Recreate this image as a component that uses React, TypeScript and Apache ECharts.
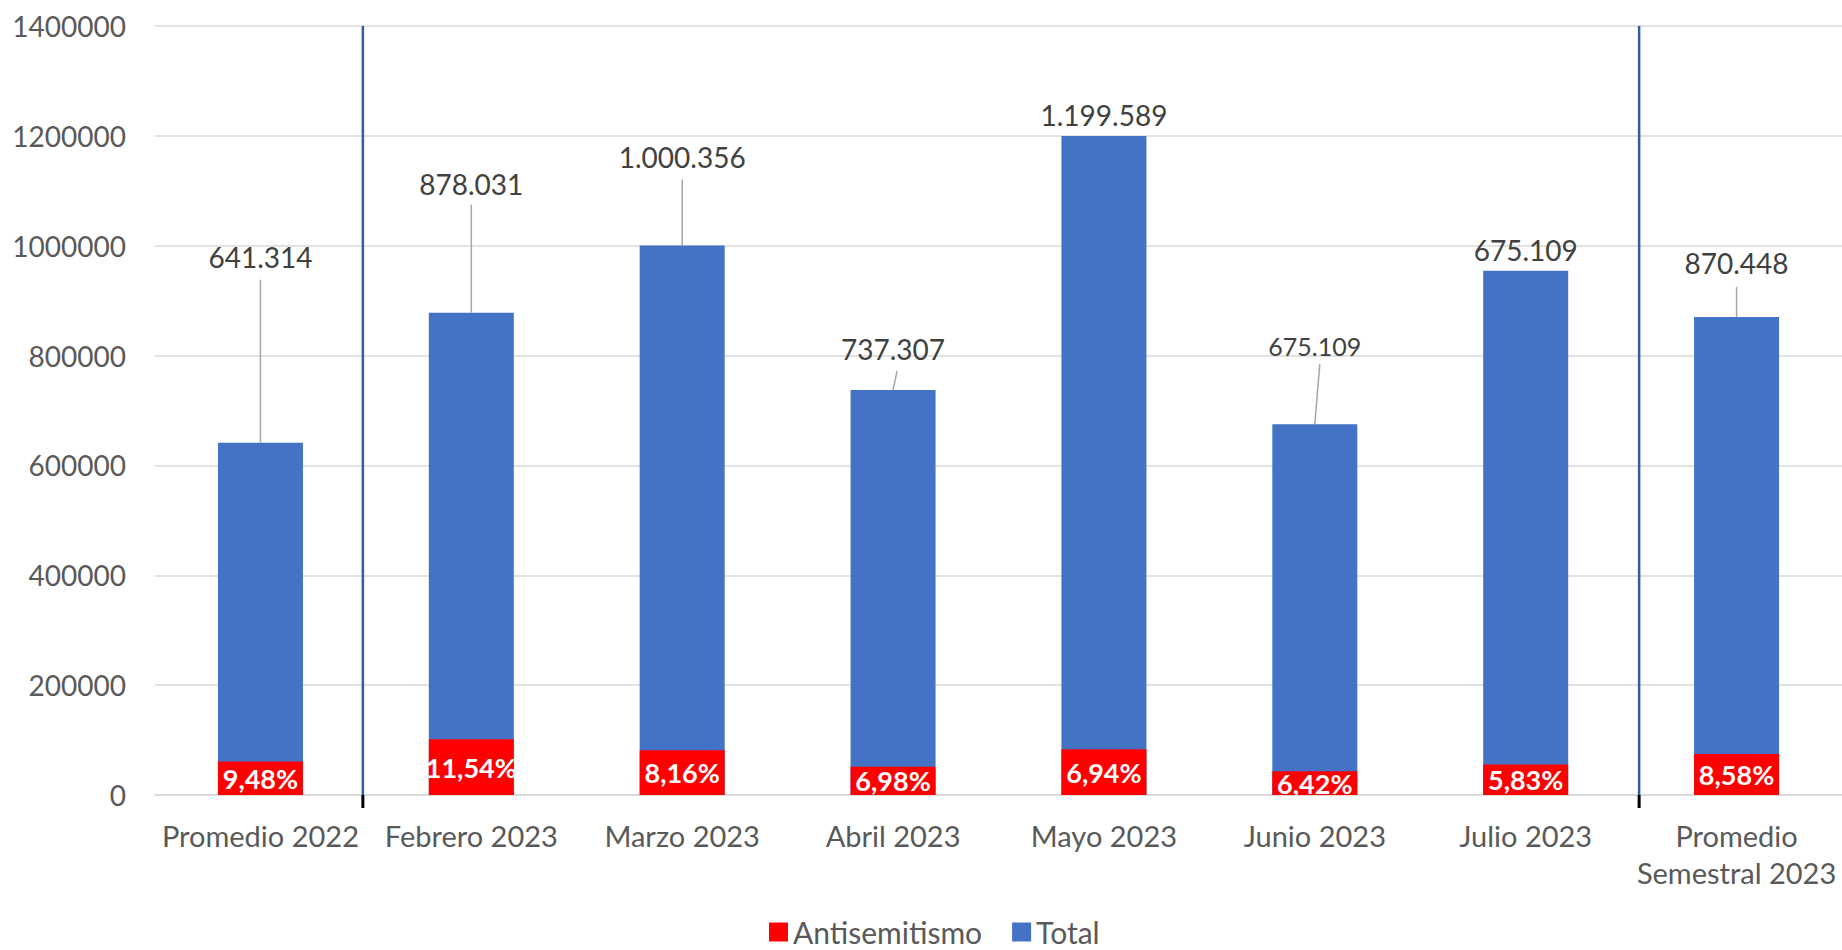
import React, { useEffect, useRef } from "react";
import * as echarts from "echarts";

const CATEGORIES = [
  "Promedio 2022",
  "Febrero 2023",
  "Marzo 2023",
  "Abril 2023",
  "Mayo 2023",
  "Junio 2023",
  "Julio 2023",
  "Promedio\nSemestral 2023",
];
const TOTALS = [641314, 878031, 1000356, 737307, 1199589, 675109, 954500, 870448];
const TOTAL_LABELS = ["641.314", "878.031", "1.000.356", "737.307", "1.199.589", "675.109", "675.109", "870.448"];
const ANTISEMITISMO = [60800, 101300, 81600, 51500, 83300, 43300, 55700, 74700];
const PCT_LABELS = ["9,48%", "11,54%", "8,16%", "6,98%", "6,94%", "6,42%", "5,83%", "8,58%"];
const Y_TICKS = { min: 0, max: 1400000, interval: 200000 };
const DIVIDER_INDEXES = [1, 7];

// styling: label displacement, leader line geometry (px), divider nudges (px)
const LABEL_DY = [-159, -102, -62, -14, 6, -53, 6, -27];
const LEADER_LEN = [163, 108, 66, 19, 0, 60, 0, 30];
const LEADER_TOP_DX = [0, 0, 0, 4, 0, 5, 0, 0];
const DIVIDER_DX = [-3, 8];
const SMALL_LABEL = [5];

const FONT = 'Lato, "Open Sans", sans-serif';

export default function App() {
  const ref = useRef<HTMLDivElement>(null);
  useEffect(() => {
    if (!ref.current) return;
    const chart = echarts.init(ref.current, null, { renderer: "svg" });
    chart.setOption({
      animation: false,
      textStyle: { fontFamily: FONT },
      grid: { left: 155, right: -4, top: 26, bottom: 155 },
      legend: {
        data: ["Antisemitismo", "Total"],
        left: 764,
        top: 912,
        icon: "rect",
        itemWidth: 19,
        itemHeight: 19,
        itemGap: 30,
        textStyle: { fontSize: 30, color: "#595959", fontFamily: FONT },
      },
      xAxis: {
        type: "category",
        data: CATEGORIES,
        axisLine: { lineStyle: { color: "#D9D9D9", width: 1.5 } },
        axisTick: { show: false },
        splitLine: { show: false },
        axisLabel: {
          interval: 0,
          margin: 22,
          fontSize: 29,
          lineHeight: 37,
          color: "#595959",
          fontFamily: FONT,
        },
      },
      yAxis: {
        type: "value",
        min: Y_TICKS.min,
        max: Y_TICKS.max,
        interval: Y_TICKS.interval,
        axisLine: { show: false },
        axisTick: { show: false },
        splitLine: { lineStyle: { color: "#D9D9D9", width: 1.5 } },
        axisLabel: {
          fontSize: 28,
          color: "#595959",
          margin: 29,
          fontFamily: FONT,
          formatter: (v: number) => String(v),
        },
      },
      series: [
        {
          name: "dividers",
          type: "custom",
          silent: true,
          clip: false,
          z: 1,
          data: DIVIDER_INDEXES.map((i) => [i, Y_TICKS.max]),
          renderItem: (params: any, api: any) => {
            const idx = api.value(0);
            const top = api.coord([idx, api.value(1)]);
            const bottom = api.coord([idx, 0]);
            const bw = api.size([1, 0])[0];
            const x = top[0] - bw / 2 + DIVIDER_DX[params.dataIndex];
            return {
              type: "group",
              children: [
                {
                  type: "line",
                  shape: { x1: x, y1: top[1], x2: x, y2: bottom[1] },
                  style: { stroke: "#2F5DAA", lineWidth: 2.5 },
                },
                {
                  type: "line",
                  shape: { x1: x, y1: bottom[1], x2: x, y2: bottom[1] + 13 },
                  style: { stroke: "#000000", lineWidth: 3 },
                },
              ],
            };
          },
        },
        {
          name: "leaders",
          type: "custom",
          silent: true,
          clip: false,
          z: 4,
          data: TOTALS.map((v, i) => [i, v]),
          renderItem: (params: any, api: any) => {
            const i = params.dataIndex;
            if (!LEADER_LEN[i]) return null;
            const p = api.coord([api.value(0), api.value(1)]);
            return {
              type: "line",
              shape: { x1: p[0], y1: p[1], x2: p[0] + LEADER_TOP_DX[i], y2: p[1] - LEADER_LEN[i] },
              style: { stroke: "#A6A6A6", lineWidth: 1.5 },
            };
          },
        },
        {
          name: "Antisemitismo",
          type: "bar",
          barWidth: 85,
          barGap: "-100%",
          z: 3,
          itemStyle: { color: "#FF0000" },
          data: ANTISEMITISMO,
          label: {
            show: true,
            position: "inside",
            formatter: (p: any) => PCT_LABELS[p.dataIndex],
            color: "#FFFFFF",
            fontWeight: "bold",
            fontSize: 27,
            fontFamily: FONT,
          },
        },
        {
          name: "Total",
          type: "bar",
          barWidth: 85,
          barGap: "-100%",
          z: 2,
          itemStyle: { color: "#4472C4" },
          data: TOTALS.map((v, i) => {
            const item: any = { value: v };
            if (SMALL_LABEL.includes(i)) item.label = { fontSize: 25 };
            return item;
          }),
          label: {
            show: true,
            position: "top",
            distance: 5,
            padding: [0, 0, 8, 0],
            formatter: (p: any) => TOTAL_LABELS[p.dataIndex],
            color: "#404040",
            fontSize: 28,
            fontFamily: FONT,
          },
          labelLayout: (params: any) => ({ dy: LABEL_DY[params.dataIndex] }),
        },
      ],
    });
    return () => chart.dispose();
  }, []);
  return (
    <div
      ref={ref}
      style={{ position: "absolute", left: 0, top: 0, width: 1842, height: 950 }}
    />
  );
}
